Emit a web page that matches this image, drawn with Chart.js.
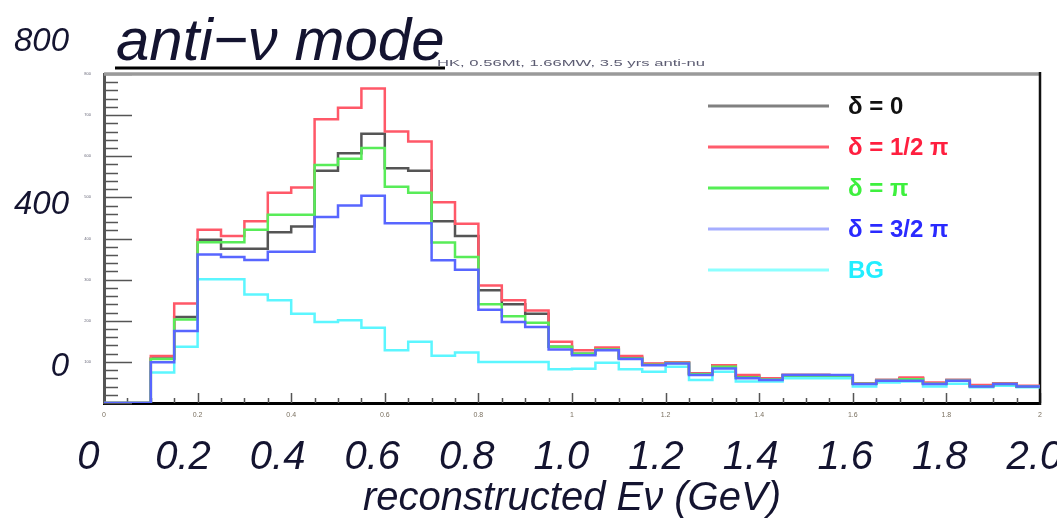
<!DOCTYPE html>
<html>
<head>
<meta charset="utf-8">
<title>anti-nu mode</title>
<script src="https://cdn.jsdelivr.net/npm/chart.js@4.4.1/dist/chart.umd.min.js"></script>
<style>
  html, body { margin: 0; padding: 0; background: #fff; }
</style>
</head>
<body>
<canvas id="histCanvas" width="1057" height="519"></canvas>
<script>
// low edge of every 0.05 GeV bin
const binLow = [0.00, 0.05, 0.10, 0.15, 0.20, 0.25, 0.30, 0.35, 0.40, 0.45,
                0.50, 0.55, 0.60, 0.65, 0.70, 0.75, 0.80, 0.85, 0.90, 0.95,
                1.00, 1.05, 1.10, 1.15, 1.20, 1.25, 1.30, 1.35, 1.40, 1.45,
                1.50, 1.55, 1.60, 1.65, 1.70, 1.75, 1.80, 1.85, 1.90, 1.95];
const binEnd = 2.0;

// events per bin
const delta0 = [0, 0, 108, 209, 397, 375, 375, 415, 429, 565,
                607, 655, 571, 565, 442, 406, 274, 240, 217, 137,
                120, 132, 110, 95, 98, 72, 92, 66, 60, 68,
                68, 66, 48, 56, 60, 48, 56, 42, 48, 40];
const deltaHalfPi = [0, 0, 114, 242, 421, 406, 442, 511, 524, 690,
                     718, 765, 660, 636, 488, 436, 286, 250, 225, 149,
                     128, 135, 114, 96, 99, 72, 92, 68, 60, 68,
                     68, 66, 48, 56, 62, 50, 56, 44, 48, 42];
const deltaPi = [0, 0, 107, 203, 391, 391, 421, 458, 458, 579,
                 594, 620, 526, 511, 390, 355, 240, 211, 195, 137,
                 120, 130, 108, 93, 97, 70, 88, 62, 57, 66,
                 66, 66, 47, 54, 58, 47, 54, 41, 46, 40];
const deltaThreeHalfPi = [0, 0, 99, 175, 361, 355, 348, 368, 368, 452,
                          480, 504, 437, 437, 347, 324, 227, 197, 185, 130,
                          116, 128, 107, 92, 96, 68, 84, 60, 56, 68,
                          68, 68, 46, 54, 54, 46, 54, 40, 46, 40];
const background = [0, 0, 74, 137, 301, 301, 264, 250, 217, 197,
                    201, 183, 128, 149, 115, 123, 100, 100, 100, 82,
                    83, 98, 82, 76, 88, 56, 76, 52, 52, 60,
                    60, 60, 40, 50, 52, 40, 47, 38, 42, 38];

const seriesLabels = ['δ = 0', 'δ = 1/2 π', 'δ = π', 'δ = 3/2 π', 'BG'];

// big hand-placed tick labels on top of the ROOT frame
const bigXTicks = [0, 0.2, 0.4, 0.6, 0.8, 1.0, 1.2, 1.4, 1.6, 1.8, 2.0];
const bigYTicks = [0, 400, 800];

const titleText = 'anti\u2212\u03bd mode';
const subTitleText = 'HK, 0.56Mt, 1.66MW, 3.5 yrs anti-nu';
const xTitleText = 'reconstructed E\u03bd (GeV)';

const FONT = '"Liberation Sans", Arial, Helvetica, sans-serif';
const INK = '#141430';

// step histogram points: each value holds from its low edge to the next one
function histPoints(values) {
    const pts = binLow.map((x, i) => ({ x: x, y: values[i] }));
    pts.push({ x: binEnd, y: values[values.length - 1] });
    return pts;
}

function noPad(scale) {
    scale.paddingLeft = 0;
    scale.paddingRight = 0;
    scale.paddingTop = 0;
    scale.paddingBottom = 0;
}

// ROOT style frame: inward ticks, grey top line, black right line
const rootFrame = {
    id: 'rootFrame',
    beforeDatasetsDraw(chart) {
        const { ctx, chartArea: a, scales } = chart;
        ctx.save();
        ctx.lineWidth = 1.5;
        ctx.strokeStyle = '#555';
        ctx.beginPath();
        for (let i = 0; i <= 40; i++) {
            const px = Math.round(scales.x.getPixelForValue(i * 0.05)) + 0.5;
            const len = i % 4 === 0 ? 10 : 5;
            ctx.moveTo(px, a.bottom);
            ctx.lineTo(px, a.bottom - len);
        }
        for (let i = 0; i <= 40; i++) {
            const py = Math.round(scales.y.getPixelForValue(i * 20)) + 0.5;
            const len = i % 5 === 0 ? 28 : 14;
            ctx.moveTo(a.left, py);
            ctx.lineTo(a.left + len, py);
        }
        ctx.stroke();

        ctx.lineWidth = 3.5;
        ctx.strokeStyle = '#9a9a9a';
        ctx.beginPath();
        ctx.moveTo(a.left, a.top);
        ctx.lineTo(a.right, a.top);
        ctx.stroke();

        ctx.lineWidth = 2.5;
        ctx.strokeStyle = '#111';
        ctx.beginPath();
        ctx.moveTo(a.right, a.top - 2);
        ctx.lineTo(a.right, a.bottom + 2);
        ctx.stroke();
        ctx.restore();
    }
};

// legend box in the upper right of the frame
const frameLegend = {
    id: 'frameLegend',
    afterDraw(chart) {
        const { ctx, chartArea: a } = chart;
        ctx.save();
        ctx.font = 'bold 24px ' + FONT;
        ctx.textBaseline = 'middle';
        ctx.textAlign = 'left';
        chart.data.datasets.forEach((ds, i) => {
            const y = a.top + 32 + i * 41;
            ctx.strokeStyle = ds.legendLine;
            ctx.lineWidth = 3;
            ctx.beginPath();
            ctx.moveTo(a.right - 332, y);
            ctx.lineTo(a.right - 211, y);
            ctx.stroke();
            ctx.fillStyle = ds.labelColor;
            ctx.fillText(ds.label, a.right - 192, y + 1);
        });
        ctx.restore();
    }
};

// title, its underline and the small run info text
const header = {
    id: 'header',
    afterDraw(chart) {
        const ctx = chart.ctx;
        ctx.save();
        ctx.fillStyle = INK;
        ctx.textBaseline = 'alphabetic';
        ctx.font = 'italic 60px ' + FONT;
        ctx.fillText(titleText, 116, 60);
        ctx.fillStyle = '#000';
        ctx.fillRect(115, 66.5, 330, 3);

        ctx.font = '9px ' + FONT;
        const w = ctx.measureText(subTitleText).width;
        ctx.translate(437, 66);
        ctx.scale(268 / w, 1);
        ctx.fillStyle = '#5c5c72';
        ctx.fillText(subTitleText, 0, 0);
        ctx.restore();
    }
};

const ctx = document.getElementById('histCanvas').getContext('2d');

new Chart(ctx, {
    type: 'line',
    data: {
        datasets: [
            { label: seriesLabels[0], data: histPoints(delta0), borderColor: '#555555',
              legendLine: '#808080', labelColor: '#111', order: 3 },
            { label: seriesLabels[1], data: histPoints(deltaHalfPi), borderColor: '#ff5868',
              legendLine: '#ff5c6c', labelColor: '#ff1f3f', order: 2 },
            { label: seriesLabels[2], data: histPoints(deltaPi), borderColor: '#58ec58',
              legendLine: '#55ee55', labelColor: '#3ef03e', order: 1 },
            { label: seriesLabels[3], data: histPoints(deltaThreeHalfPi), borderColor: '#5866ff',
              legendLine: '#a6aeff', labelColor: '#2a2aff', order: 0 },
            { label: seriesLabels[4], data: histPoints(background), borderColor: '#5cf6ff',
              legendLine: '#8cffff', labelColor: '#22eeff', order: 4 }
        ]
    },
    options: {
        responsive: false,
        animation: false,
        layout: { padding: { top: 74, right: 17, left: 0, bottom: 0 } },
        datasets: {
            line: { stepped: 'before', borderWidth: 2.5, pointRadius: 0, tension: 0, fill: false }
        },
        plugins: {
            legend: { display: false },
            tooltip: { enabled: false }
        },
        scales: {
            x: {
                type: 'linear',
                position: 'bottom',
                min: 0,
                max: 2,
                grid: { display: false },
                border: { display: true, color: '#000', width: 3 },
                ticks: {
                    stepSize: 0.2,
                    autoSkip: false,
                    maxRotation: 0,
                    padding: 0,
                    color: '#7a7060',
                    font: { family: FONT, size: 7 },
                    callback: (v) => Math.abs(v - Math.round(v)) < 1e-9 ? String(Math.round(v)) : v.toFixed(1)
                },
                afterFit: (s) => { s.height = 14; noPad(s); }
            },
            y: {
                type: 'linear',
                position: 'left',
                min: 0,
                max: 800,
                grid: { display: false },
                border: { display: true, color: '#555', width: 3 },
                ticks: {
                    stepSize: 100,
                    autoSkip: false,
                    padding: 5,
                    color: '#667',
                    font: { family: FONT, size: 4 },
                    callback: (v) => v === 0 ? '' : String(v)
                },
                afterFit: (s) => { s.width = 24; noPad(s); }
            },
            xBig: {
                type: 'linear',
                position: 'bottom',
                min: 0.033,
                max: 2.0118,
                grid: { display: false },
                border: { display: false },
                afterBuildTicks: (s) => { s.ticks = bigXTicks.map(v => ({ value: v })); },
                ticks: {
                    autoSkip: false,
                    maxRotation: 0,
                    padding: 9,
                    color: INK,
                    font: { family: FONT, style: 'italic', size: 40 },
                    callback: (v) => v === 0 ? '0' : v.toFixed(1)
                },
                title: {
                    display: true,
                    text: xTitleText,
                    color: INK,
                    padding: 0,
                    font: { family: FONT, style: 'italic', size: 40, lineHeight: 1.0 }
                },
                afterFit: (s) => { s.height = 102; noPad(s); }
            },
            yBig: {
                type: 'linear',
                position: 'left',
                min: -88.6,
                max: 721.2,
                grid: { display: false },
                border: { display: false },
                afterBuildTicks: (s) => { s.ticks = bigYTicks.map(v => ({ value: v })); },
                ticks: {
                    autoSkip: false,
                    padding: 3,
                    color: INK,
                    font: { family: FONT, style: 'italic', size: 33 },
                    callback: (v) => String(v)
                },
                afterFit: (s) => { s.width = 80; noPad(s); }
            }
        }
    },
    plugins: [rootFrame, frameLegend, header]
});
</script>
</body>
</html>
